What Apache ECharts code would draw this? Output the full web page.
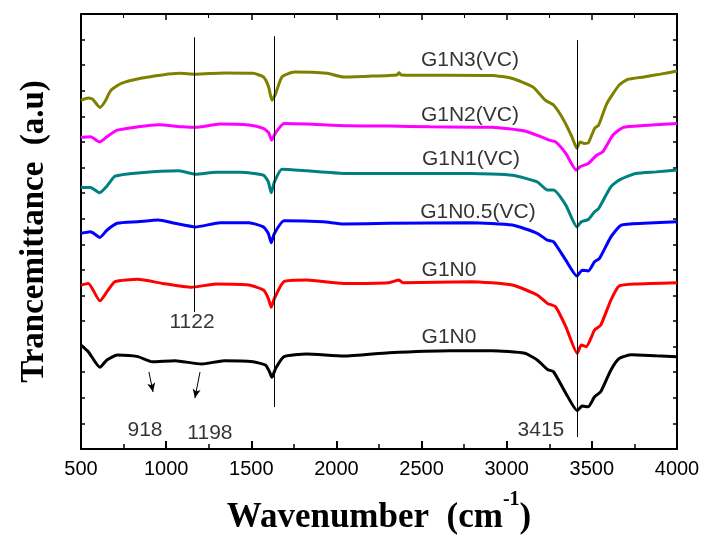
<!DOCTYPE html>
<html>
<head>
<meta charset="utf-8">
<script src="https://cdn.jsdelivr.net/npm/echarts@6/dist/echarts.min.js"></script>
<style>html,body{margin:0;padding:0;background:#fff}#c{width:705px;height:541px}</style>
</head>
<body>
<div id="c"></div>
<script>
// x-axis tick labels
const xTicks = [500, 1000, 1500, 2000, 2500, 3000, 3500, 4000];

// Spectra: [wavenumber (cm-1), transmittance (a.u., offset)]
const g1n3 = [[500,13.63],[543,13.72],[568,13.67],[611,13.35],[640,13.57],[676,14.02],[737,14.29],[858,14.50],[979,14.62],[1075,14.68],[1172,14.65],[1341,14.69],[1510,14.68],[1571,14.54],[1602,14.15],[1621,13.63],[1643,13.89],[1680,14.54],[1752,14.73],[1945,14.68],[2042,14.54],[2187,14.57],[2356,14.62],[2368,14.70],[2380,14.62],[2550,14.61],[2913,14.60],[3033,14.48],[3154,14.15],[3226,13.63],[3275,13.44],[3335,12.85],[3383,12.20],[3412,11.75],[3431,12.00],[3455,11.94],[3479,11.96],[3516,12.53],[3540,12.66],[3588,13.50],[3660,14.22],[3709,14.44],[3805,14.54],[3902,14.65],[4000,14.77]];
const g1n2 = [[500,12.18],[556,12.20],[609,12.00],[652,12.20],[713,12.46],[834,12.59],[954,12.67],[1099,12.59],[1172,12.57],[1317,12.70],[1486,12.66],[1571,12.53],[1602,12.36],[1619,12.07],[1643,12.36],[1692,12.72],[1825,12.70],[2066,12.63],[2308,12.62],[2550,12.59],[2913,12.57],[3106,12.43],[3203,12.20],[3251,12.07],[3287,12.00],[3347,11.55],[3408,10.90],[3431,11.03],[3479,11.16],[3528,11.48],[3564,11.61],[3624,12.27],[3685,12.57],[3805,12.64],[4000,12.72]];
const g1n1 = [[500,10.22],[556,10.22],[609,10.01],[652,10.27],[700,10.66],[834,10.79],[1075,10.87],[1172,10.74],[1293,10.82],[1437,10.82],[1571,10.70],[1600,10.44],[1617,10.01],[1636,10.44],[1680,10.93],[1825,10.87],[2042,10.77],[2308,10.77],[2791,10.77],[3033,10.70],[3179,10.44],[3239,10.12],[3275,10.12],[3347,9.53],[3412,8.68],[3438,8.88],[3479,8.97],[3516,9.27],[3540,9.40],[3612,10.25],[3660,10.51],[3757,10.77],[3878,10.83],[4000,10.90]];
const g1n05 = [[500,8.43],[556,8.49],[611,8.27],[652,8.55],[713,8.82],[834,8.88],[954,8.95],[1051,8.82],[1172,8.68],[1317,8.84],[1486,8.84],[1571,8.68],[1600,8.43],[1617,8.06],[1636,8.43],[1692,8.92],[1921,8.88],[2042,8.79],[2308,8.82],[2791,8.84],[3033,8.75],[3179,8.43],[3239,8.16],[3275,8.10],[3347,7.38],[3412,6.76],[3443,6.99],[3479,6.96],[3516,7.32],[3545,7.45],[3612,8.29],[3673,8.75],[3805,8.82],[4000,8.88]];
const g1n0a = [[500,6.41],[543,6.47],[611,5.79],[652,6.14],[700,6.54],[834,6.63],[979,6.47],[1148,6.32],[1293,6.45],[1486,6.41],[1571,6.21],[1600,5.89],[1617,5.54],[1636,5.89],[1692,6.54],[1825,6.60],[2042,6.47],[2308,6.50],[2368,6.60],[2390,6.50],[2791,6.54],[3033,6.41],[3179,6.02],[3239,5.69],[3287,5.56],[3347,4.78],[3414,3.74],[3438,4.06],[3467,4.00],[3516,4.65],[3552,4.84],[3612,5.82],[3660,6.37],[3757,6.45],[4000,6.50]];
const g1n0b = [[500,4.06],[543,3.80],[611,3.19],[652,3.48],[713,3.67],[834,3.61],[918,3.41],[1051,3.45],[1208,3.32],[1341,3.45],[1510,3.41],[1583,3.28],[1607,3.02],[1621,2.80],[1643,3.15],[1692,3.61],[1825,3.71],[2042,3.63],[2308,3.76],[2670,3.84],[2913,3.84],[3106,3.74],[3179,3.48],[3239,3.11],[3275,3.02],[3347,2.18],[3414,1.50],[3443,1.68],[3479,1.65],[3516,2.04],[3552,2.24],[3612,3.09],[3660,3.54],[3733,3.68],[3878,3.64],[4000,3.61]];

// Curve labels and peak annotations: [x, y, text]
const curveLabels = [[2784,15.20,'G1N3(VC)'],[2784,13.05,'G1N2(VC)'],[2790,11.33,'G1N1(VC)'],[2831,9.26,'G1N0.5(VC)'],[2661,6.99,'G1N0'],[2661,4.37,'G1N0']];
const peakLabels = [[1152,4.96,'1122'],[876,0.74,'918'],[1257,0.63,'1198'],[3201,0.74,'3415']];
// Vertical marker lines: [x, yTop, yBottom]
const markerLines = [[1165,16.09,5.35],[1633,16.13,1.64],[3417,15.98,0.47]];
// Arrows: [x1, y1, x2, y2]
const arrows = [[899,3.01,923,2.23],[1199,3.01,1169,1.99]];

const colors = ['#808000','#ff00ff','#008080','#0000ff','#ff0000','#000000'];
const spectra = [g1n3, g1n2, g1n1, g1n05, g1n0a, g1n0b];

const chart = echarts.init(document.getElementById('c'), null, {renderer:'canvas'});

const axisCommon = {
  axisLine:{show:true, onZero:false, lineStyle:{color:'#000', width:2}},
  splitLine:{show:false}
};

const series = spectra.map((d,i)=>({
  type:'line', data:d, showSymbol:false, symbol:'none', smooth:0.18,
  lineStyle:{color:colors[i], width:3}, z:3, silent:true, animation:false
}));

series.push({
  type:'line', data:[], silent:true, animation:false,
  markLine:{
    silent:true, symbol:['none','none'], label:{show:false},
    lineStyle:{color:'#000', width:1, type:'solid'},
    data: markerLines.map(m=>[{coord:[m[0],m[1]]},{coord:[m[0],m[2]]}])
  }
});
series.push({
  type:'line', data:[], silent:true, animation:false,
  markLine:{
    silent:true, symbol:['none','arrow'], symbolSize:[6,9], label:{show:false},
    lineStyle:{color:'#000', width:1, type:'solid'},
    data: arrows.map(a=>[{coord:[a[0],a[1]]},{coord:[a[2],a[3]]}])
  }
});
series.push({
  type:'scatter', symbolSize:0, silent:true, animation:false,
  data: curveLabels.concat(peakLabels).map(l=>({value:[l[0],l[1]], name:l[2]})),
  label:{show:true, position:'inside', formatter:p=>p.name,
    color:'#000', textBorderWidth:0, textShadowBlur:0,
    fontSize:21, fontFamily:'Liberation Sans, Arial, sans-serif'}
});

chart.setOption({
  animation:false,
  grid:{left:81, right:28, top:14, bottom:92, containLabel:false, outerBoundsMode:'none'},
  xAxis:[
    Object.assign({}, axisCommon, {
      type:'value', min:500, max:4000, interval:500, position:'bottom',
      name:'{a|Wavenumber  (cm}{s|-1}{a|)}', nameLocation:'middle', nameGap:31,
      nameTextStyle:{rich:{
        a:{fontFamily:'Liberation Serif, Times New Roman, serif', fontWeight:'bold', fontSize:35, color:'#000', verticalAlign:'bottom', height:40},
        s:{fontFamily:'Liberation Serif, Times New Roman, serif', fontWeight:'bold', fontSize:20, color:'#000', verticalAlign:'top', padding:[0,0,18,0], height:40}
      }},
      axisTick:{show:true, inside:true, length:8, lineStyle:{color:'#000', width:2}},
      minorTick:{show:true, splitNumber:2, length:5, lineStyle:{color:'#000', width:1.5}},
      axisLabel:{show:true, margin:10, fontSize:20, color:'#000', fontFamily:'Liberation Sans, Arial, sans-serif',
        formatter:v=> xTicks.includes(v) ? String(v) : ''}
    }),
    Object.assign({}, axisCommon, {
      type:'value', min:500, max:4000, interval:500, position:'top',
      axisTick:{show:true, inside:true, length:6, lineStyle:{color:'#000', width:1.5}},
      minorTick:{show:true, splitNumber:2, length:4, lineStyle:{color:'#000', width:1}},
      axisLabel:{show:false}
    })
  ],
  yAxis:[
    Object.assign({}, axisCommon, {
      type:'value', min:0, max:17, interval:1, position:'left',
      name:'Trancemittance  (a.u)', nameLocation:'middle', nameGap:30, nameRotate:90,
      nameTextStyle:{fontFamily:'Liberation Serif, Times New Roman, serif', fontWeight:'bold', fontSize:33, color:'#000'},
      axisTick:{show:true, inside:true, length:4, lineStyle:{color:'#000', width:1.5}},
      axisLabel:{show:false}
    }),
    Object.assign({}, axisCommon, {
      type:'value', min:0, max:17, interval:1, position:'right',
      axisTick:{show:true, inside:true, length:4, lineStyle:{color:'#000', width:1.5}},
      axisLabel:{show:false}
    })
  ],
  series: series
});
</script>
</body>
</html>
